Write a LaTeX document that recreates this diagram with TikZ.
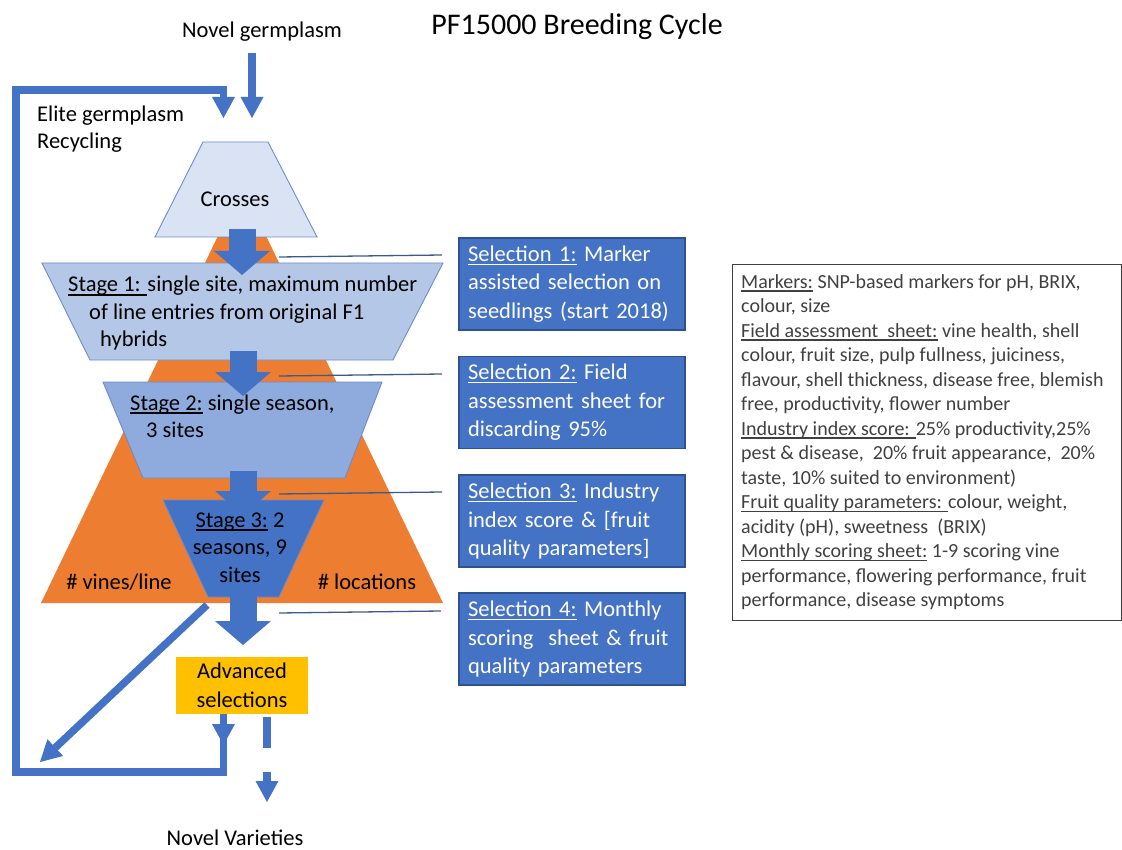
\documentclass[tikz,border=0pt]{standalone}
\usepackage{fontspec}
\setmainfont{Carlito}
\usetikzlibrary{arrows.meta}
\definecolor{bblue}{HTML}{4472C4}
\definecolor{bdark}{HTML}{2F528F}
\definecolor{trapline}{HTML}{6C8DC9}
\definecolor{crossfill}{HTML}{DAE3F3}
\definecolor{s1fill}{HTML}{B4C7E7}
\definecolor{s2fill}{HTML}{8FAADC}
\definecolor{orangef}{HTML}{ED7D31}
\definecolor{yellowf}{HTML}{FFC000}
\definecolor{thinline}{HTML}{3D5A8A}
\definecolor{greytxt}{HTML}{404040}
\newsavebox\ulbox
\newcommand\myul[1]{\sbox\ulbox{#1}\rlap{\rule[-3.5pt]{\wd\ulbox}{1.2pt}}\usebox\ulbox}
\begin{document}
\begin{tikzpicture}[x=1pt,y=-1pt,
  txt/.style={font=\fontsize{22.5}{27.5}\selectfont, inner sep=0pt, text=black},
  trap/.style={draw=trapline, line width=0.9pt},
  blockarrow/.style={line width=27pt, draw=bblue, -{Triangle[width=56pt,length=24pt,line width=0pt]}},
  thinarrow/.style={line width=7.5pt, draw=bblue, -{Triangle[width=23pt,length=21pt,line width=0pt]}},
  loopline/.style={line width=7.5pt, draw=bblue, line join=miter},
  selbox/.style={draw=bdark, line width=1.2pt, fill=bblue, minimum width=226pt, minimum height=92pt,
     text width=208pt, inner xsep=9pt, inner ysep=0pt, align=left, text=white,
     font=\fontsize{22.5}{28.5}\selectfont},
  guide/.style={draw=thinline, line width=1.3pt}
]
\useasboundingbox (0,0) rectangle (1122,850);

% title
\node[txt, anchor=base, font=\fontsize{30}{36}\selectfont] (title) at (577,35) {PF15000 Breeding Cycle};
\node[txt, anchor=base] (novelg) at (262,38) {Novel germplasm};
\node[txt, anchor=base west, align=left, font=\fontsize{22.5}{26.5}\selectfont] (elite) at (37,148.5) {Elite germplasm\\Recycling};

% orange triangle
\fill[orangef] (242,186) -- (443,603) -- (41,603) -- cycle;
\node[txt, anchor=base] (vines) at (119,589) {\# vines/line};
\node[txt, anchor=base] (locs) at (367,589) {\# locations};

% crosses
\draw[trap, fill=crossfill] (203,142) -- (268,142) -- (317,237) -- (155,237) -- cycle;
\node[txt, anchor=base] (crosses) at (235,207) {Crosses};

% stage 1
\draw[trap, fill=s1fill] (42,263) -- (443,263) -- (393,360) -- (90,360) -- cycle;
\node[txt, anchor=base west, align=left] (stage1) at (68,347)
  {\myul{Stage 1: }single site, maximum number\\\hspace*{21pt}of line entries from original F1\\\hspace*{32pt}hybrids};

% stage 2
\draw[trap, fill=s2fill] (103,382) -- (382,382) -- (345,478) -- (143,478) -- cycle;
\node[txt, anchor=base west, align=left] (stage2) at (130,437.5)
  {\myul{Stage 2:} single season,\\\hspace*{16pt}3 sites};

% stage 3
\draw[trap, fill=bblue] (163,500) -- (324,500) -- (279,597) -- (208,597) -- cycle;
\node[txt, anchor=base, align=center] (stage3) at (240,582)
  {\myul{Stage 3:} 2\\seasons, 9\\sites};

% coordinates for block arrows
\coordinate (a1s) at (242,229); \coordinate (a1e) at (242,275);
\coordinate (a2s) at (243,351); \coordinate (a2e) at (243,396);
\coordinate (a3s) at (243,471); \coordinate (a3e) at (243,515);
\coordinate (a4s) at (243,590); \coordinate (a4e) at (243,645);
\draw[blockarrow] (a1s) -- (a1e);
\draw[blockarrow] (a2s) -- (a2e);
\draw[blockarrow] (a3s) -- (a3e);
\draw[blockarrow] (a4s) -- (a4e);

% advanced selections
\node[fill=yellowf, minimum width=132pt, minimum height=57pt, inner sep=0pt, align=center,
      font=\fontsize{22.5}{28.5}\selectfont] (adv) at (242,685.5) {Advanced\\selections};

% loop and arrows
\coordinate (novelTip) at (252,118);
\coordinate (novelStart) at (252,53);
\coordinate (loopTip) at (223.5,118);
\coordinate (advL) at (223.5,714);
\coordinate (advArr) at (223.5,745);
\draw[thinarrow] (novelStart) -- (novelTip);
\draw[loopline, -{Triangle[width=23pt,length=21pt,line width=0pt]}]
  (advL) -- (223.5,772) -- (16,772) -- (16,90) -- (223.5,90) -- (loopTip);
\draw[thinarrow] (advL) -- (advArr);
\coordinate (diagS) at (207,605);
\coordinate (diagE) at (40,762);
\draw[thinarrow] (diagS) -- (diagE);
\coordinate (advR) at (267,717);
\coordinate (nvTip) at (267,802);
\draw[thinarrow, dash pattern=on 31pt off 24pt] (advR) -- (nvTip);
\node[txt, anchor=base] (novelv) at (235,845) {Novel Varieties};

% selection boxes
\node[selbox] (sel1) at (572,284) {\myul{Selection 1:} Marker\\assisted selection on\\seedlings (start 2018)};
\node[selbox] (sel2) at (572,402.5) {\myul{Selection 2:} Field\\assessment sheet for\\discarding 95\%};
\node[selbox] (sel3) at (572,521) {\myul{Selection 3:} Industry\\index score \& [fruit\\quality parameters]};
\node[selbox] (sel4) at (572,639) {\myul{Selection 4:} Monthly\\scoring~ sheet \& fruit\\quality parameters};

% guide lines
\coordinate (g1a) at (279,257); \coordinate (g1b) at (442,255);
\coordinate (g2a) at (279,376); \coordinate (g2b) at (442,374);
\coordinate (g3a) at (279,494); \coordinate (g3b) at (442,492);
\coordinate (g4a) at (279,613); \coordinate (g4b) at (441,611);
\draw[guide] (g1a) -- (g1b);
\draw[guide] (g2a) -- (g2b);
\draw[guide] (g3a) -- (g3b);
\draw[guide] (g4a) -- (g4b);

% right text box
\node[draw=greytxt, line width=1pt, minimum width=389pt, minimum height=355pt, inner sep=0pt] (rbox) at (926.5,442.5) {};
\node[inner sep=0pt, anchor=base west, align=left, text=greytxt, font=\fontsize{20}{24.5}\selectfont] (rtext) at (741,606.5)
{\myul{Markers:} SNP-based markers for pH, BRIX,\\
colour, size\\
\myul{Field assessment~ sheet:} vine health, shell\\
colour, fruit size, pulp fullness, juiciness,\\
flavour, shell thickness, disease free, blemish\\
free, productivity, flower number\\
\myul{Industry index score: }25\% productivity,25\%\\
pest \& disease, ~20\% fruit appearance, ~20\%\\
taste, 10\% suited to environment)\\
\myul{Fruit quality parameters: }colour, weight,\\
acidity (pH), sweetness ~(BRIX)\\
\myul{Monthly scoring sheet:} 1-9 scoring vine\\
performance, flowering performance, fruit\\
performance, disease symptoms};
\end{tikzpicture}
\end{document}
